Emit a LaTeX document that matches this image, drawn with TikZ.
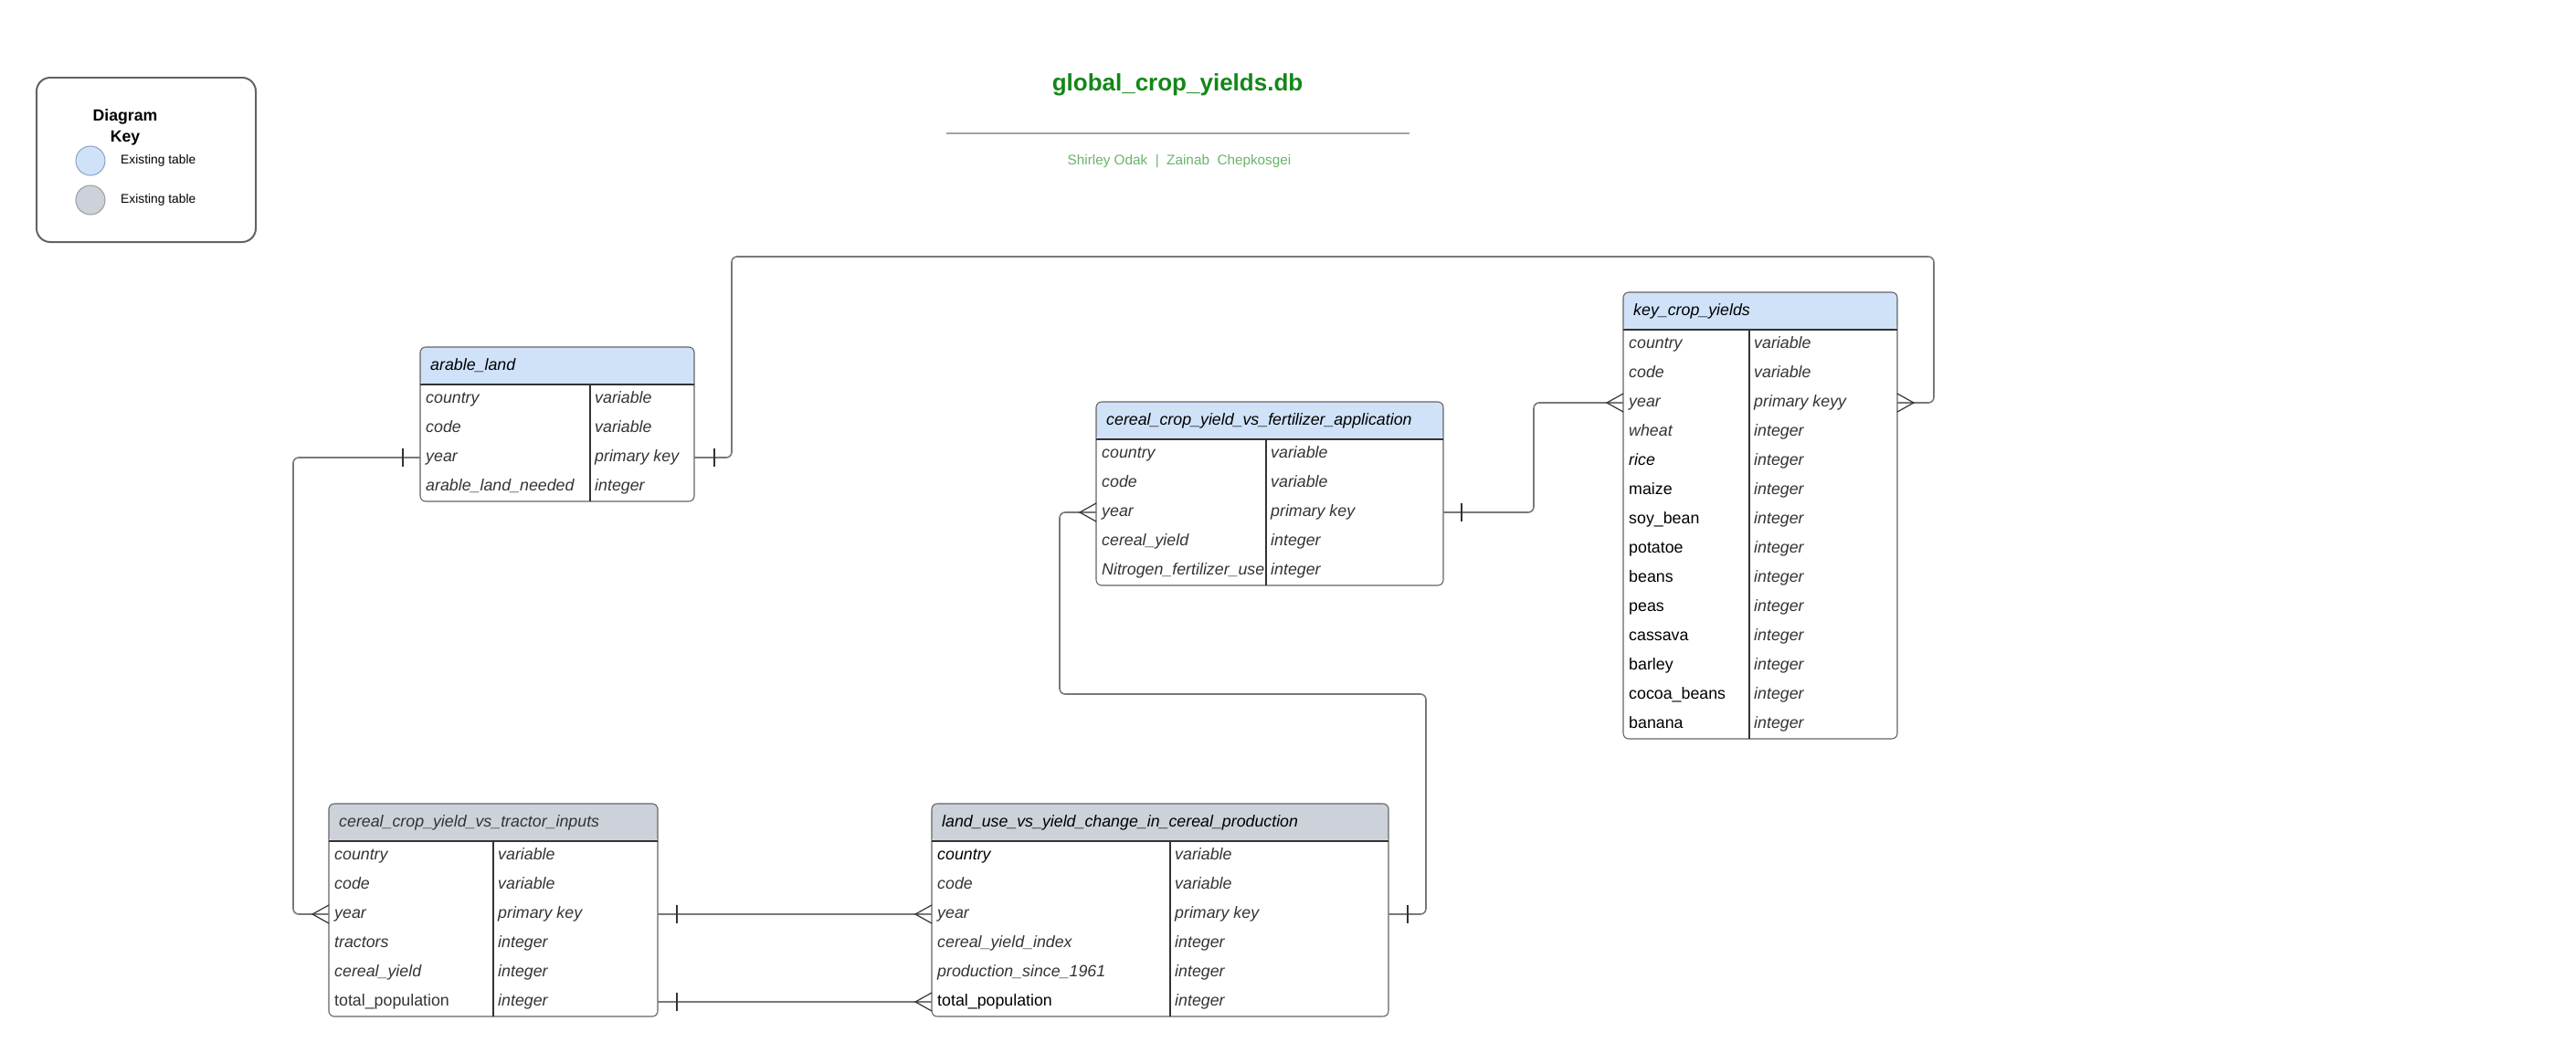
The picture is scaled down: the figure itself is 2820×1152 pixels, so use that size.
\documentclass[tikz,border=0pt]{standalone}
\usepackage{fontspec}
\setmainfont{Liberation Sans}
\usetikzlibrary{calc}
\definecolor{hblue}{RGB}{207,226,248}
\definecolor{hgray}{RGB}{205,210,218}
\definecolor{ink}{RGB}{51,51,51}
\definecolor{tabborder}{RGB}{100,100,100}
\definecolor{conngray}{RGB}{120,120,120}
\definecolor{titlegreen}{RGB}{18,135,24}
\definecolor{subgreen}{RGB}{105,180,105}
\definecolor{rulegray}{RGB}{160,163,168}
\definecolor{blueedge}{RGB}{140,160,190}
\definecolor{grayedge}{RGB}{150,155,160}
\tikzset{
  tabbox/.style={draw=tabborder, line width=1.1pt, rounded corners=6pt, inner sep=0pt, outer sep=0pt, anchor=north west},
  hline/.style={draw=ink, line width=1.1pt},
  cell/.style={anchor=west, inner sep=0pt, text height=12.8pt, text depth=3.6pt,
    font=\fontsize{17.8}{20}\selectfont\itshape, text=ink},
  up/.style={font=\fontsize{17.8}{20}\selectfont\upshape, text=black},
  blk/.style={text=black},
  hdr/.style={anchor=west, inner sep=0pt, font=\fontsize{17.8}{20}\selectfont\itshape, text=black},
  hdrg/.style={text=ink},
  conn/.style={draw=conngray, line width=1.6pt, rounded corners=6pt},
  mk/.style={draw=ink, line width=1.2pt},
  keybox/.style={draw=tabborder, line width=2pt, rounded corners=15pt, inner sep=0pt, outer sep=0pt, anchor=north west},
  keytxt/.style={anchor=west, inner sep=0pt, font=\fontsize{13.8}{16}\selectfont},
  keydot/.style={circle, minimum size=32pt, inner sep=0pt, line width=1pt},
}
% #1 name, #2 x left, #3 y top, #4 x right, #5 rows, #6 x divider, #7 header fill, #8 header text, #9 header style
\newcommand\ertab[9]{%
  \pgfmathsetmacro\ERx{#2}%
  \pgfmathsetmacro\ERtop{#3}%
  \pgfmathsetmacro\ERr{#4}%
  \pgfmathsetmacro\ERdiv{#6}%
  \pgfmathsetmacro\ERhb{#3+41}%
  \pgfmathsetmacro\ERbot{#3+41+32*#5}%
  \pgfmathsetmacro\ERw{#4-#2}%
  \pgfmathsetmacro\ERh{41+32*#5}%
  \node[tabbox, minimum width=\ERw pt, minimum height=\ERh pt,
    path picture={\fill[#7] (path picture bounding box.north west) rectangle ([yshift=-41pt]path picture bounding box.north east);}]
    (#1) at (\ERx,\ERtop) {};
  \draw[hline] (\ERx,\ERhb) -- (\ERr,\ERhb);
  \draw[hline] (\ERdiv,\ERhb) -- (\ERdiv,\ERbot);
  \node[hdr,#9] (#1-h) at (\ERx+11,\ERtop+20.5) {#8};
}
% #1 table, #2 row, #3 left text, #4 right text, #5 left style
\newcommand\erow[5]{%
  \pgfmathsetmacro\ERy{\ERhb+16+32*(#2-1)}%
  \node[cell,#5] (#1-#2l) at (\ERx+6,\ERy) {#3};
  \node[cell] (#1-#2r) at (\ERdiv+5,\ERy) {#4};
}
\newcommand\barmk[2]{\draw[mk] ($(#1)+(#2,-10)$) -- ($(#1)+(#2,10)$);}
\newcommand\crowmk[2]{\draw[mk] ($(#1)+(0,-10)$) -- ($(#1)+(#2,0)$) -- ($(#1)+(0,10)$);}
\begin{document}
\begin{tikzpicture}[x=1pt,y=-1pt]
\useasboundingbox (0,0) rectangle (2820,1152);

% title block
\node[font=\bfseries\fontsize{26}{30}\selectfont, text=titlegreen] (title) at (1289,93) {global\_crop\_yields.db};
\draw[draw=rulegray, line width=2pt] (1036,146) -- (1543,146);
\node[font=\fontsize{15.3}{18}\selectfont, text=subgreen] (authors) at (1291,177) {Shirley Odak\ \ |\ \ Zainab\ \ Chepkosgei};

% key
\node[keybox, minimum width=240pt, minimum height=180pt] (key) at (40,85) {};
\node[font=\bfseries\fontsize{17.7}{23}\selectfont, align=center, inner sep=0pt] (keytitle) at (137,139) {Diagram\\Key};
\node[keydot, fill=hblue, draw=blueedge] (keyblue) at (99,176) {};
\node[keytxt] (keybluet) at (132,176) {Existing table};
\node[keydot, fill=hgray, draw=grayedge] (keygray) at (99,219) {};
\node[keytxt] (keygrayt) at (132,219) {Existing table};

% arable_land
\ertab{al}{460}{380}{760}{4}{646}{hblue}{arable\_land}{}
\erow{al}{1}{country}{variable}{}
\erow{al}{2}{code}{variable}{}
\erow{al}{3}{year}{primary key}{}
\erow{al}{4}{arable\_land\_needed}{integer}{}

% fertilizer
\ertab{fc}{1200}{440}{1580}{5}{1386}{hblue}{cereal\_crop\_yield\_vs\_fertilizer\_application}{}
\erow{fc}{1}{country}{variable}{}
\erow{fc}{2}{code}{variable}{}
\erow{fc}{3}{year}{primary key}{}
\erow{fc}{4}{cereal\_yield}{integer}{}
\erow{fc}{5}{Nitrogen\_fertilizer\_use}{integer}{}

% key_crop_yields
\ertab{kc}{1777}{320}{2077}{14}{1915}{hblue}{key\_crop\_yields}{}
\erow{kc}{1}{country}{variable}{}
\erow{kc}{2}{code}{variable}{}
\erow{kc}{3}{year}{primary keyy}{}
\erow{kc}{4}{wheat}{integer}{}
\erow{kc}{5}{rice}{integer}{blk}
\erow{kc}{6}{maize}{integer}{up}
\erow{kc}{7}{soy\_bean}{integer}{up}
\erow{kc}{8}{potatoe}{integer}{up}
\erow{kc}{9}{beans}{integer}{up}
\erow{kc}{10}{peas}{integer}{up}
\erow{kc}{11}{cassava}{integer}{up}
\erow{kc}{12}{barley}{integer}{up}
\erow{kc}{13}{cocoa\_beans}{integer}{up}
\erow{kc}{14}{banana}{integer}{up}

% tractor inputs
\ertab{tr}{360}{880}{720}{6}{540}{hgray}{cereal\_crop\_yield\_vs\_tractor\_inputs}{hdrg}
\erow{tr}{1}{country}{variable}{}
\erow{tr}{2}{code}{variable}{}
\erow{tr}{3}{year}{primary key}{}
\erow{tr}{4}{tractors}{integer}{}
\erow{tr}{5}{cereal\_yield}{integer}{}
\erow{tr}{6}{total\_population}{integer}{up,text=ink}

% land use
\ertab{lu}{1020}{880}{1520}{6}{1281}{hgray}{land\_use\_vs\_yield\_change\_in\_cereal\_production}{}
\erow{lu}{1}{country}{variable}{blk}
\erow{lu}{2}{code}{variable}{}
\erow{lu}{3}{year}{primary key}{}
\erow{lu}{4}{cereal\_yield\_index}{integer}{}
\erow{lu}{5}{production\_since\_1961}{integer}{}
\erow{lu}{6}{total\_population}{integer}{up}

% connectors
\draw[conn] (al.east |- al-3l) -- (801,501) -- (801,281) -- (2117,281) -- (2117,441) -- (kc.east |- kc-3l);
\draw[conn] (al.west |- al-3l) -- (321,501) -- (321,1001) -- (tr.west |- tr-3l);
\draw[conn] (tr.east |- tr-3l) -- (lu.west |- lu-3l);
\draw[conn] (tr.east |- tr-6l) -- (lu.west |- lu-6l);
\draw[conn] (lu.east |- lu-3r) -- (1561,1001) -- (1561,760) -- (1160,760) -- (1160,561) -- (fc.west |- fc-3l);
\draw[conn] (fc.east |- fc-3r) -- (1679,561) -- (1679,441) -- (kc.west |- kc-3l);

% end marks
\barmk{al.east |- al-3l}{22}
\crowmk{kc.east |- kc-3l}{18}
\barmk{al.west |- al-3l}{-19}
\crowmk{tr.west |- tr-3l}{-18}
\barmk{tr.east |- tr-3l}{21}
\crowmk{lu.west |- lu-3l}{-18}
\barmk{tr.east |- tr-6l}{21}
\crowmk{lu.west |- lu-6l}{-18}
\barmk{lu.east |- lu-3r}{21}
\crowmk{fc.west |- fc-3l}{-18}
\barmk{fc.east |- fc-3r}{20}
\crowmk{kc.west |- kc-3l}{-18}
\end{tikzpicture}
\end{document}
